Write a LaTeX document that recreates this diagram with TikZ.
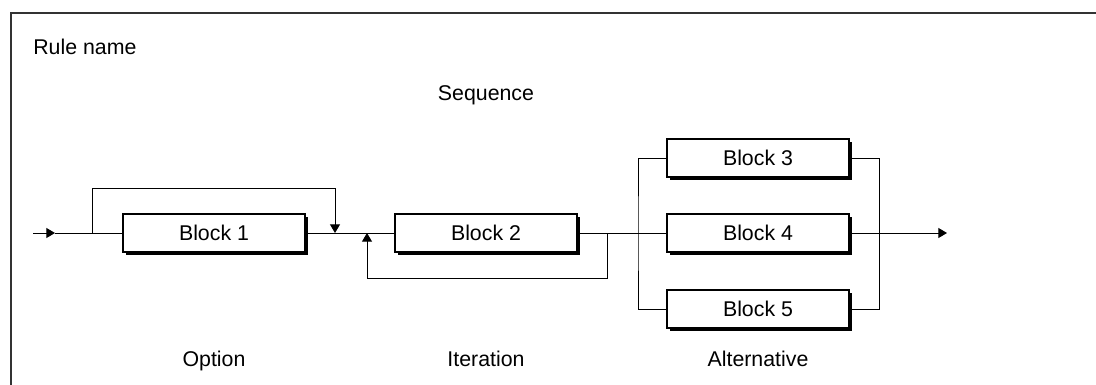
\documentclass[tikz,border=0pt]{standalone}
\usepackage{fontspec}
\setmainfont{Liberation Sans}
\usetikzlibrary{arrows.meta, positioning, shadows}
\begin{document}
\begin{tikzpicture}[x=0.75pt, y=-0.75pt, >={Triangle[width=7.5pt,length=6.5pt]}, font=\fontsize{16}{19}\selectfont]
    \tikzstyle{blockbox} = [draw, rectangle, fill=white, minimum width=136.5pt, minimum height=28.5pt, line width=0.8pt, inner sep=0pt, drop shadow={shadow xshift=1.9pt, shadow yshift=-1.9pt, fill=black, opacity=1}]
    \tikzstyle{link} = [line width=0.75pt]
    \tikzstyle{caption} = [inner sep=0pt, anchor=base]

    \useasboundingbox (0,0) rectangle (1096,385);
    \draw [line width=1.5pt, black!80] (11,385) |- (1096,13);

    \node [caption, anchor=base west] (rulename) at (33,55) {Rule name};
    \node [caption] (sequence) at (486,101) {Sequence};

    \node [blockbox] (b1) at (214,233) {Block 1};
    \node [blockbox] (b2) at (486,233) {Block 2};
    \node [blockbox] (b3) at (758,158) {Block 3};
    \node [blockbox] (b4) at (758,233) {Block 4};
    \node [blockbox] (b5) at (758,309) {Block 5};

    \node [caption] (option) at (214,366) {Option};
    \node [caption] (iteration) at (486,366) {Iteration};
    \node [caption] (alternative) at (758,366) {Alternative};

    \coordinate (start) at (33,233);
    \coordinate (starttip) at (55,233);
    \coordinate (optl) at (92,233);
    \coordinate (optr) at (335,233);
    \coordinate (itl) at (367,233);
    \coordinate (itr) at (607,233);
    \coordinate (altl) at (638,233);
    \coordinate (altr) at (879,233);
    \coordinate (finish) at (947,233);

    \draw [link, ->] (start) -- (starttip);
    \draw [link] (starttip) -- (b1);
    \draw [link] (b1) -- (b2);
    \draw [link, ->] (optl) -- ++(0,-45) -| (optr);
    \draw [link, ->] (itr) -- ++(0,45) -| (itl);
    \draw [link] (b2) -- (b4);
    \draw [link] (b3.west) -| (altl) |- (b5.west);
    \draw [link] (b3.east) -| (altr) |- (b5.east);
    \draw [link, ->] (b4) -- (finish);
\end{tikzpicture}
\end{document}
